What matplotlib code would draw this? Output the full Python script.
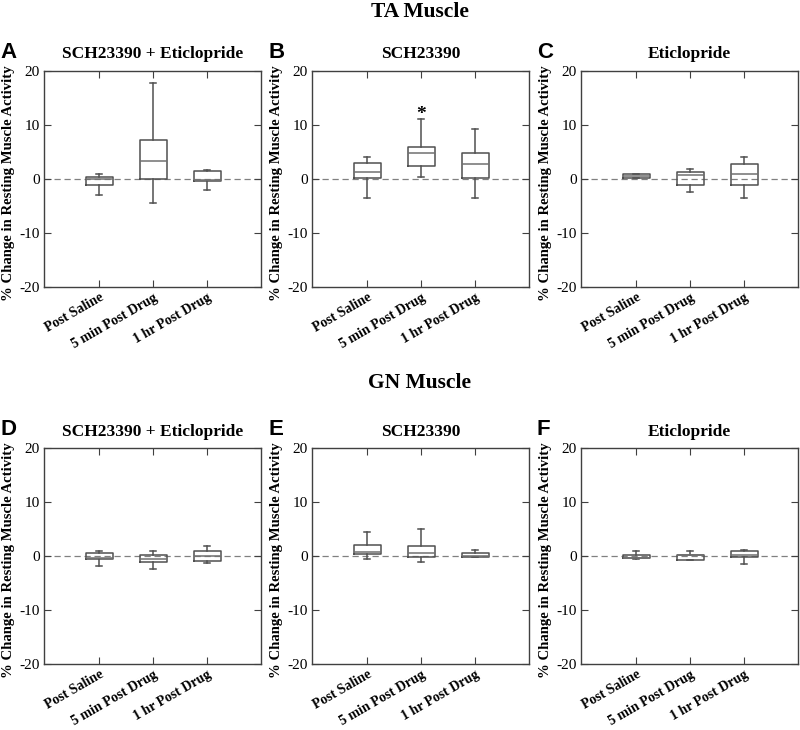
#!/usr/bin/env python3
import matplotlib
matplotlib.use('Agg')
import matplotlib.pyplot as plt

groups = ['Post Saline', '5 min Post Drug', '1 hr Post Drug']
letters = ['A', 'B', 'C', 'D', 'E', 'F']
titles = ['SCH23390 + Eticlopride', 'SCH23390', 'Eticlopride',
          'SCH23390 + Eticlopride', 'SCH23390', 'Eticlopride']

# box stats per panel (A..F), each row = [Post Saline, 5 min, 1 hr]
whis_lo = [[-3.0, -4.4, -2.0], [-3.5, 0.3, -3.6], [0.2, -2.35, -3.6],
           [-1.9, -2.4, -1.35], [-0.55, -1.05, -0.25], [-0.6, -0.7, -1.5]]
q1 = [[-1.2, 0.0, -0.4], [0.2, 2.4, 0.2], [0.2, -1.2, -1.05],
      [-0.6, -1.05, -0.9], [0.4, -0.25, -0.25], [-0.45, -0.7, -0.1]]
med = [[0.0, 3.3, -0.25], [1.3, 4.9, 2.85], [0.5, 0.74, 0.99],
       [-0.45, -0.55, 0.05], [0.68, 0.5, 0.05], [-0.35, 0.1, 0.15]]
q3 = [[0.43, 7.3, 1.5], [3.0, 5.9, 4.75], [0.93, 1.36, 2.84],
      [0.6, 0.25, 1.0], [2.1, 1.9, 0.5], [0.2, 0.2, 0.9]]
whis_hi = [[0.85, 17.8, 1.7], [4.1, 11.2, 9.3], [0.95, 1.85, 4.1],
           [1.0, 1.0, 1.9], [4.4, 5.0, 1.2], [1.0, 0.9, 1.1]]
star_panel = 1
star_group = 1
star_y = 12.0

fig = plt.figure(figsize=(8, 7.3), dpi=100)
W, H = 800, 730
lefts = [44, 312, 581]
tops = [71, 448]
aw, ah = 217, 216

line_c = '#505050'
for i in range(6):
    r, c = divmod(i, 3)
    ax = fig.add_axes([lefts[c] / W, 1 - (tops[r] + ah) / H, aw / W, ah / H])
    stats = []
    for j in range(3):
        stats.append(dict(whislo=whis_lo[i][j], q1=q1[i][j], med=med[i][j],
                          q3=q3[i][j], whishi=whis_hi[i][j], fliers=[]))
    ax.axhline(0, color='#808080', lw=0.9, ls=(0, (5, 3)), zorder=1)
    ax.bxp(stats, positions=[1, 2, 3], widths=0.5, capwidths=0.12,
           showfliers=False, patch_artist=False,
           boxprops=dict(color=line_c, lw=1.1),
           whiskerprops=dict(color=line_c, lw=1.1),
           capprops=dict(color=line_c, lw=1.1),
           medianprops=dict(color='#707070', lw=1.1))
    if i == star_panel:
        ax.text(star_group + 1, star_y, '*', ha='center', va='center',
                fontsize=14, family='Liberation Serif', fontweight='bold')
    ax.set_xlim(-0.02, 4.0)
    ax.set_ylim(-20, 20)
    ax.set_yticks([-20, -10, 0, 10, 20])
    ax.set_xticks([1, 2, 3])
    ax.set_yticklabels(['-20', '-10', '0', '10', '20'],
                       family='Liberation Serif', fontsize=11)
    ax.set_xticklabels(groups, rotation=30, ha='right', rotation_mode='anchor',
                       family='Liberation Serif', fontweight='bold', fontsize=10)
    ax.tick_params(direction='in', top=True, right=True, length=5,
                   color='#404040', pad=3)
    for sp in ax.spines.values():
        sp.set_color('#404040')
        sp.set_linewidth(1.0)
    ax.set_ylabel('% Change in Resting Muscle Activity', family='Liberation Serif',
                  fontweight='bold', fontsize=10.6)
    ax.yaxis.set_label_coords(-0.135, 0.48)
    ax.set_title(titles[i], family='Liberation Serif', fontweight='bold',
                 fontsize=12.5, pad=9)
    fig.text((lefts[c] - 44) / W, 1 - (tops[r] - 13) / H, letters[i],
             family='Liberation Sans', fontweight='bold', fontsize=16,
             ha='left', va='baseline')

fig.text(420 / W, 1 - 17 / H, 'TA Muscle', family='Liberation Serif',
         fontweight='bold', fontsize=15.5, ha='center', va='baseline')
fig.text(420 / W, 1 - 388 / H, 'GN Muscle', family='Liberation Serif',
         fontweight='bold', fontsize=15.5, ha='center', va='baseline')

fig.savefig('out.png', dpi=100)
